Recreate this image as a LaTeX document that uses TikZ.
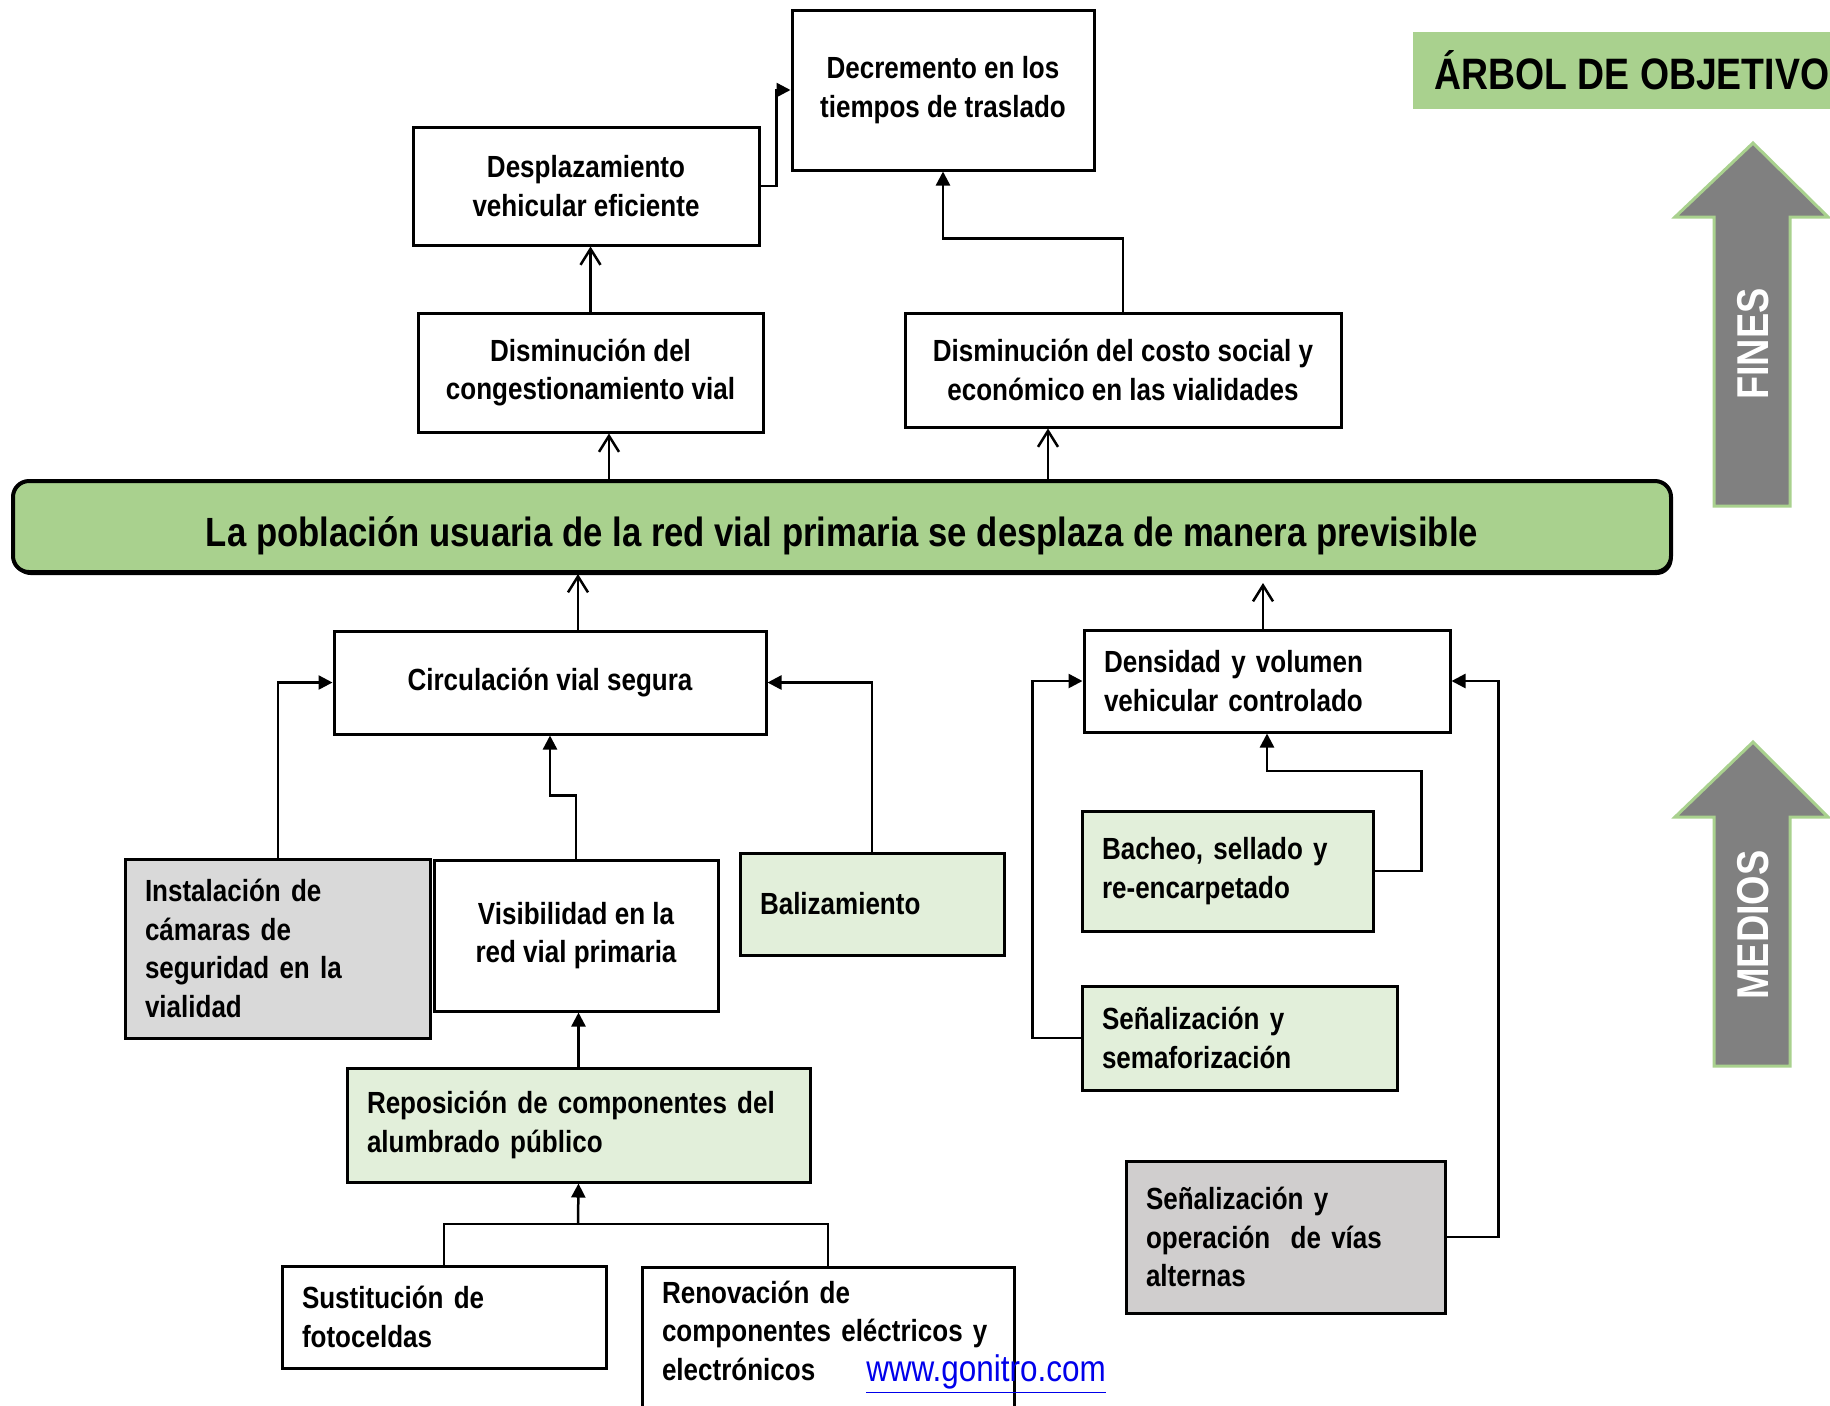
\documentclass[tikz,border=0pt]{standalone}
\usepackage{fontspec}
\setmainfont{Liberation Sans}[FakeStretch=0.85]
\usetikzlibrary{arrows.meta,shadows}

\definecolor{leaf}{HTML}{A9D18E}
\definecolor{palegreen}{HTML}{E2EFDA}
\definecolor{cellgray}{HTML}{D9D9D9}
\definecolor{altgray}{HTML}{D0CECE}
\definecolor{arrowgray}{HTML}{808080}
\definecolor{linkblue}{RGB}{0,0,235}

\tikzset{
  box/.style={draw=black, line width=1.5pt, fill=white, inner sep=0pt,
    align=center, font=\fontsize{15.3}{19.3}\selectfont\bfseries},
  lbox/.style={box, align=left, inner xsep=10pt},
  link/.style={line width=1.25pt},
  fa/.style={link, -{Triangle[length=7pt,width=7pt]}},
  oa/.style={link, -{Straight Barb[length=8pt,width=10pt,line width=1.25pt]}},
  bigarrow/.style={fill=arrowgray, draw=leaf, line width=1.5pt, line join=miter},
  arrowtext/.style={rotate=90, text=white, font=\fontsize{22.3}{22}\selectfont\bfseries}
}

\begin{document}
\begin{tikzpicture}[x=0.5pt,y=-0.5pt]

% page
\fill[white] (0,0) rectangle (1830,1405);
\useasboundingbox (0,0) rectangle (1830,1405);

% heading
\node[fill=leaf, anchor=west, inner xsep=10.5pt, inner ysep=0pt, minimum height=38.5pt,
      font=\fontsize{22}{26}\selectfont\bfseries] (title) at (1413,70.5) {ÁRBOL DE OBJETIVOS};

% side arrows
\draw[bigarrow] (1714,506) -- (1714,217) -- (1675,217) -- (1753,143) -- (1828,217)
  -- (1790,217) -- (1790,506) -- cycle;
\node[arrowtext] (fines) at (1753,344) {FINES};
\draw[bigarrow] (1714,1066) -- (1714,817) -- (1675,817) -- (1753,742) -- (1828,817)
  -- (1790,817) -- (1790,1066) -- cycle;
\node[arrowtext] (medios) at (1753,925) {MEDIOS};

% ends
\node[box, minimum width=151pt, minimum height=80pt] (dec) at (943,90) {Decremento en los\\tiempos de traslado};
\node[box, minimum width=173pt, minimum height=59pt] (desp) at (586,186) {Desplazamiento\\vehicular eficiente};
\node[box, minimum width=172.5pt, minimum height=59.5pt] (cong) at (590.5,372.5) {Disminución del\\congestionamiento vial};
\node[box, minimum width=218pt, minimum height=57pt] (costo) at (1123,370) {Disminución del costo social y\\económico en las vialidades};

% central objective
\node[draw=black, line width=2pt, fill=leaf, rounded corners=8pt,
      minimum width=829pt, minimum height=45.5pt, text height=21pt, text depth=1pt,
      drop shadow={shadow xshift=0.8pt, shadow yshift=-1.5pt, fill=black, opacity=1},
      font=\fontsize{20.4}{24}\selectfont\bfseries] (meta) at (842,526.5)
  {La población usuaria de la red vial primaria se desplaza de manera previsible};

% means
\node[box, minimum width=216pt, minimum height=51.5pt] (circ) at (550,682.5) {Circulación vial segura};
\node[lbox, minimum width=183pt, minimum height=51pt, text width=163pt] (dens) at (1267,681)
  {Densidad y volumen\\vehicular controlado};
\node[lbox, fill=cellgray, minimum width=152.5pt, minimum height=89.5pt, text width=132.5pt] (inst) at (277.5,948.5)
  {Instalación de\\cámaras de\\seguridad en la\\vialidad};
\node[box, minimum width=142pt, minimum height=75.5pt] (vis) at (576,935.5) {Visibilidad en la\\red vial primaria};
\node[lbox, fill=palegreen, minimum width=132pt, minimum height=51pt, text width=112pt] (bali) at (872,904) {Balizamiento};
\node[lbox, fill=palegreen, minimum width=145.5pt, minimum height=60pt, text width=125.5pt] (bach) at (1227.5,871)
  {Bacheo, sellado y\\re-encarpetado};
\node[lbox, fill=palegreen, minimum width=157.5pt, minimum height=52pt, text width=137.5pt] (semaf) at (1239.5,1038)
  {Señalización y\\semaforización};
\node[lbox, fill=altgray, minimum width=159.5pt, minimum height=76pt, text width=139.5pt] (alt) at (1285.5,1237)
  {Señalización y\\operación\ \ de vías\\alternas};
\node[lbox, fill=palegreen, minimum width=231.5pt, minimum height=57pt, text width=211.5pt] (repo) at (578.5,1125)
  {Reposición de componentes del\\alumbrado público};
\node[lbox, minimum width=162pt, minimum height=51pt, text width=142pt] (sust) at (444,1317)
  {Sustitución de\\fotoceldas};
\node[lbox, minimum width=186pt, minimum height=83pt, text width=166pt] (renov) at (828,1350)
  {Renovación de\\componentes eléctricos y\\electrónicos\\\mbox{}};

% connector columns
\coordinate (xa) at (609,0);
\coordinate (xb) at (1048,0);
\coordinate (xc) at (578,0);
\coordinate (xd) at (1263,0);
\coordinate (xe) at (278,0);
\coordinate (join) at (578,1224);

% upper links
\draw[fa] (desp.east) -- ++(16,0) |- (dec.west);
\draw[fa] (costo.north) -- ++(0,-73) -| (dec.south);
\draw[oa] (cong.north) -- (cong.north |- desp.south);
\draw[oa] (meta.north -| xa) -- (cong.south -| xa);
\draw[oa] (meta.north -| xb) -- (costo.south -| xb);

% links into the central objective
\draw[oa] (circ.north -| xc) -- (meta.south -| xc);
\draw[oa, shorten >=4.5pt] (dens.north -| xd) -- (meta.south -| xd);

% left branch
\draw[fa] (inst.north -| xe) |- (circ.west);
\draw[fa] (vis.north) -- ++(0,-63) -| (circ.south);
\draw[fa] (bali.north) |- (circ.east);
\draw[fa] (repo.north) -- (repo.north |- vis.south);
\draw[line width=1pt] (sust.north) |- (join) -| (renov.north);
\draw[fa] (join) -- (repo.south);

% right branch
\draw[fa] (bach.east) -- ++(47,0) -- ++(0,-100) -| (dens.south);
\draw[fa] (semaf.west) -- ++(-48,0) |- (dens.west);
\draw[fa] (alt.east) -- ++(52,0) |- (dens.east);

% web address
\node[text=linkblue, inner sep=0pt, font=\fontsize{18.5}{20}\selectfont] (web) at (986,1374)
  {\underline{www.gonitro.com}};
\end{tikzpicture}
\end{document}
